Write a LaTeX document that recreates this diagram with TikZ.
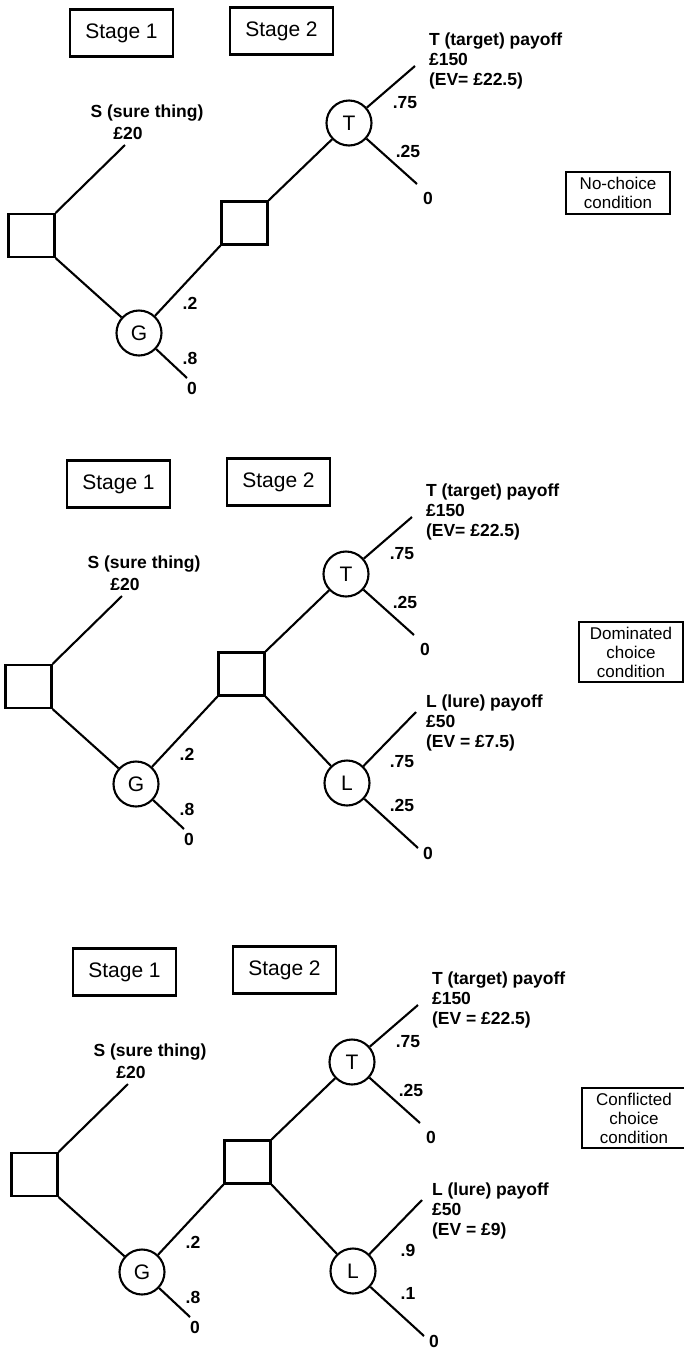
\documentclass[tikz,border=0pt]{standalone}
\usepackage{fontspec}
\setmainfont{Liberation Sans}
\usetikzlibrary{positioning}

\begin{document}
\begin{tikzpicture}[x=1pt, y=-1pt, line width=2.1pt,
    stagebox/.style={draw, minimum width=103pt, minimum height=47pt, inner sep=2pt, font=\fontsize{21}{24}\selectfont},
    choice/.style={draw, minimum width=46pt, minimum height=43pt, inner sep=0pt},
    chance/.style={draw, circle, minimum size=45pt, inner sep=0pt, font=\fontsize{21}{24}\selectfont},
    lbl/.style={inner sep=0pt, font=\bfseries\fontsize{17.5}{20}\selectfont},
    payoff/.style={lbl, align=left, anchor=north west},
    condbox/.style={draw, minimum width=104pt, inner sep=5pt, align=center, font=\fontsize{17}{19}\selectfont}]
  \useasboundingbox (0,0) rectangle (684,1350);
  \foreach \i/\dx/\dy/\evT/\cond/\cx/\cy/\pA/\pB/\evL in {
      1/0/0/{(EV= £22.5)}/{No-choice\\condition}/618/193/{}/{}/{},
      2/-3/451/{(EV= £22.5)}/{Dominated\\choice\\condition}/634/201/.75/.25/{(EV = £7.5)},
      3/3/939/{(EV = £22.5)}/{Conflicted\\choice\\condition}/631/179/.9/.1/{(EV = £9)}} {
    \begin{scope}[shift={(\dx,\dy)}]
      % stage headers
      \node[stagebox] (st1) at (121.5,33) {Stage 1};
      \node[stagebox] (st2) at (281.5,31) {Stage 2};
      % stage 1: sure thing or gamble
      \node[choice] (d1) at (31.5,235.5) {};
      \coordinate (sEnd) at (125,145);
      \draw (d1.north east) -- (sEnd);
      \node[lbl] (sName) at (147,113) {S (sure thing)};
      \node[lbl] (sVal) at (128,133) {£20};
      \node[chance] (g) at (139,333) {G};
      \draw (d1.south east) -- (g);
      \coordinate (gEnd) at (187,378);
      \draw (g) -- (gEnd);
      \node[lbl] (pG1) at (190,303) {.2};
      \node[lbl] (pG2) at (190,358) {.8};
      \node[lbl] (zG) at (192,388) {0};
      % stage 2: target
      \node[choice] (d2) at (244.5,223) {};
      \draw (g) -- (d2.south west);
      \node[chance] (t) at (349,123) {T};
      \draw (d2.north east) -- (t);
      \coordinate (tUp) at (415,66);
      \coordinate (tDown) at (417,184);
      \draw (t) -- (tUp);
      \draw (t) -- (tDown);
      \node[lbl] (pT1) at (405,103) {.75};
      \node[lbl] (pT2) at (408,151) {.25};
      \node[lbl] (zT) at (428,198) {0};
      \node[payoff] (tPay) at (428,32) {T (target) payoff\\£150\\\evT};
      % condition
      \node[condbox] (cond) at (\cx,\cy) {\cond};
      \ifnum\i>1
        % lure
        \node[chance] (l) at (350,332) {L};
        \draw (d2.south east) -- (l);
        \coordinate (lUp) at (419,261);
        \coordinate (lDown) at (421,397);
        \draw (l) -- (lUp);
        \draw (l) -- (lDown);
        \node[lbl] (pL1) at (405,311) {\pA};
        \node[lbl] (pL2) at (405,354) {\pB};
        \node[lbl] (zL) at (431,402) {0};
        \node[payoff] (lPay) at (428,243) {L (lure) payoff\\£50\\\evL};
      \fi
    \end{scope}
  }
\end{tikzpicture}
\end{document}
